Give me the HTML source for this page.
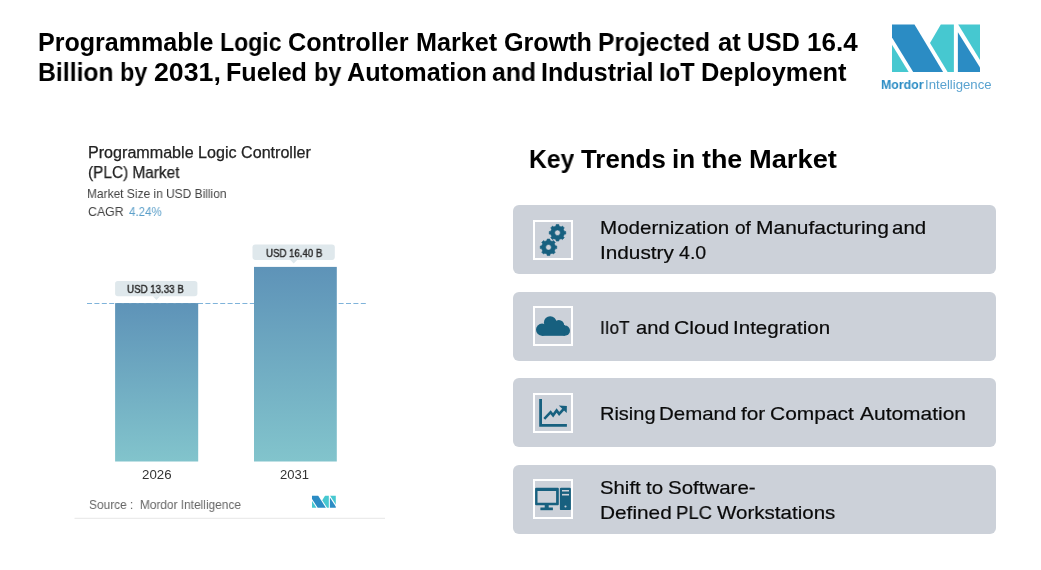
<!DOCTYPE html>
<html>
<head>
<meta charset="utf-8">
<style>
html,body{margin:0;padding:0;background:#fff;}
body{width:1041px;height:570px;position:relative;overflow:hidden;font-family:"Liberation Sans",sans-serif;color:#000;}
.abs{position:absolute;white-space:nowrap;}
.abs,.ctext{will-change:transform;}
.title{left:38.5px;top:27px;font-size:25px;font-weight:bold;line-height:30px;transform-origin:0 0;}
.tw{font-size:25px;font-weight:bold;line-height:30px;transform-origin:0 0;}
.kw{font-size:25px;font-weight:bold;line-height:30px;transform-origin:0 0;}
.cw{font-size:19px;line-height:25px;color:#0a0a0a;-webkit-text-stroke:0.2px #0a0a0a;transform-origin:0 0;}
.key{left:528.5px;top:144px;font-size:26px;font-weight:bold;line-height:30px;transform-origin:0 0;}
.card{position:absolute;left:513px;width:483px;height:69px;background:#ccd1d9;border-radius:6px;}
.ibox{position:absolute;left:19.8px;width:35.8px;height:35.8px;border:2.25px solid #fff;}
.ctext{position:absolute;left:87px;font-size:20.5px;line-height:25px;white-space:nowrap;color:#111;transform-origin:0 0;}
.ch{color:#222;transform-origin:0 0;}
</style>
</head>
<body>
<div class="abs tw" id="tw1" style="left:38.27px;top:27px;transform:scaleX(1.0018);">Programmable</div>
<div class="abs tw" id="tw2" style="left:219.61px;top:27px;transform:scaleX(0.9232);">Logic</div>
<div class="abs tw" id="tw3" style="left:287.72px;top:27px;transform:scaleX(1.0087);">Controller</div>
<div class="abs tw" id="tw4" style="left:415.81px;top:27px;transform:scaleX(1.0065);">Market</div>
<div class="abs tw" id="tw5" style="left:503.93px;top:27px;transform:scaleX(1.0054);">Growth</div>
<div class="abs tw" id="tw6" style="left:597.92px;top:27px;transform:scaleX(0.9826);">Projected</div>
<div class="abs tw" id="tw7" style="left:718.35px;top:27px;transform:scaleX(1.0228);">at</div>
<div class="abs tw" id="tw8" style="left:747.39px;top:27px;transform:scaleX(0.9970);">USD</div>
<div class="abs tw" id="tw9" style="left:806.69px;top:27px;transform:scaleX(1.0400);">16.4</div>
<div class="abs tw" id="tw10" style="left:38.31px;top:57px;transform:scaleX(0.9900);">Billion</div>
<div class="abs tw" id="tw11" style="left:120.29px;top:57px;transform:scaleX(0.9374);">by</div>
<div class="abs tw" id="tw12" style="left:153.60px;top:57px;transform:scaleX(1.0684);">2031,</div>
<div class="abs tw" id="tw13" style="left:226.45px;top:57px;transform:scaleX(1.0050);">Fueled</div>
<div class="abs tw" id="tw14" style="left:314.12px;top:57px;transform:scaleX(0.9365);">by</div>
<div class="abs tw" id="tw15" style="left:346.51px;top:57px;transform:scaleX(1.0076);">Automation</div>
<div class="abs tw" id="tw16" style="left:491.54px;top:57px;transform:scaleX(0.9872);">and</div>
<div class="abs tw" id="tw17" style="left:540.86px;top:57px;transform:scaleX(1.0001);">Industrial</div>
<div class="abs tw" id="tw18" style="left:658.61px;top:57px;transform:scaleX(0.9504);">IoT</div>
<div class="abs tw" id="tw19" style="left:701.16px;top:57px;transform:scaleX(1.0174);">Deployment</div>

<!-- logo -->
<svg class="abs" style="left:880px;top:20px" width="120" height="80" viewBox="880 20 120 80">
<polygon points="892,24.5 914.5,24.5 943.1,71.9 913.2,71.9 892,37.5" fill="#2b8cc4"/>
<polygon points="892,44.8 892,71.9 908.7,71.9" fill="#46c8d0"/>
<polygon points="940.8,24.5 953.9,24.5 953.9,71.9 947.6,71.9 930,43" fill="#46c8d0"/>
<polygon points="957.9,32.2 957.9,71.9 980,71.9 980,67.5" fill="#2b8cc4"/>
<polygon points="958.2,24.5 980,24.5 980,60.1" fill="#46c8d0"/>
</svg>
<div class="abs" id="lg1" style="left:881.3px;top:76.5px;font-size:13px;line-height:16px;transform-origin:0 0;transform:scaleX(0.95);font-weight:bold;color:#2b8cc4">Mordor</div>
<div class="abs" id="lg2" style="left:924.8px;top:76.5px;font-size:13px;line-height:16px;transform-origin:0 0;transform:scaleX(1.012);color:#5aa3d0">Intelligence</div>

<!-- chart -->
<div id="chart" style="position:absolute;left:0;top:0;width:500px;height:570px;filter:blur(0.3px)">
<div class="abs ch" id="c1" style="left:87.64px;top:143px;font-size:16px;line-height:20px;-webkit-text-stroke:0.25px #222;transform:scaleX(1.0064)">Programmable Logic Controller</div>
<div class="abs ch" id="c2" style="left:87.84px;top:163px;font-size:16px;line-height:20px;-webkit-text-stroke:0.25px #222;transform:scaleX(0.9611)">(PLC) Market</div>
<div class="abs ch" id="c3" style="left:87.39px;top:186px;font-size:13px;line-height:16px;color:#444;transform:scaleX(0.9197)">Market Size in USD Billion</div>
<div class="abs ch" id="c4" style="left:87.68px;top:204px;font-size:13px;line-height:16px;color:#444;transform:scaleX(0.9474)">CAGR</div>
<div class="abs ch" id="c5" style="left:128.68px;top:204px;font-size:13px;line-height:16px;color:#5b9fc9;transform:scaleX(0.8916)">4.24%</div>
<svg class="abs" style="left:0;top:0" width="500" height="570" viewBox="0 0 500 570">
<defs><linearGradient id="bg" x1="0" y1="0" x2="0" y2="1"><stop offset="0" stop-color="#5e93b8"/><stop offset="1" stop-color="#82c4cc"/></linearGradient></defs>
<line x1="87" y1="303.4" x2="367" y2="303.4" stroke="#7fb3da" stroke-width="1.05" stroke-dasharray="5 2.4"/>
<rect x="115.1" y="303.1" width="83.1" height="158.4" fill="url(#bg)"/>
<rect x="254" y="266.9" width="82.8" height="194.6" fill="url(#bg)"/>
<rect x="74.5" y="517.8" width="310.5" height="1" fill="#e6e6e6"/>
<g fill="#dfe8ec">
<rect x="115.1" y="280.9" width="82.3" height="15.4" rx="2.8"/>
<polygon points="152.8,296.2 160,296.2 156.4,299.9"/>
<rect x="252.5" y="244.5" width="82.3" height="15.4" rx="2.8"/>
<polygon points="290.1,259.8 297.4,259.8 293.7,263.6"/>
</g>
<svg x="311.9" y="495.4" width="24" height="12.5" viewBox="892 24.5 88 47.5" preserveAspectRatio="none">
<polygon points="892,24.5 914.5,24.5 943.1,71.9 913.2,71.9 892,37.5" fill="#2b8cc4"/>
<polygon points="892,44.8 892,71.9 908.7,71.9" fill="#46c8d0"/>
<polygon points="940.8,24.5 953.9,24.5 953.9,71.9 947.6,71.9 930,43" fill="#46c8d0"/>
<polygon points="957.9,32.2 957.9,71.9 980,71.9 980,67.5" fill="#2b8cc4"/>
<polygon points="958.2,24.5 980,24.5 980,60.1" fill="#46c8d0"/>
</svg>
</svg>
<div class="abs ch" id="l1" style="left:127.22px;top:282px;font-size:11.3px;line-height:14px;color:#2e2e2e;-webkit-text-stroke:0.45px #2e2e2e;transform:scaleX(0.8605)">USD 13.33 B</div>
<div class="abs ch" id="l2" style="left:266.32px;top:246px;font-size:11.3px;line-height:14px;color:#2e2e2e;-webkit-text-stroke:0.45px #2e2e2e;transform:scaleX(0.8537)">USD 16.40 B</div>
<div class="abs ch" id="y1" style="left:142.49px;top:467px;font-size:13px;line-height:16px;color:#333;transform:scaleX(1.0201);">2026</div>
<div class="abs ch" id="y2" style="left:280.16px;top:467px;font-size:13px;line-height:16px;color:#333;transform:scaleX(1.0008);">2031</div>
<div class="abs ch" id="src" style="left:89.10px;top:497px;font-size:13px;line-height:16px;color:#666;transform:scaleX(0.9141)">Source :&nbsp; Mordor Intelligence</div>
</div>

<!-- right -->

<div class="card" style="top:205px"><div class="ibox" style="top:14.8px"></div></div>
<div class="card" style="top:292px"><div class="ibox" style="top:13.8px"></div></div>
<div class="card" style="top:378px"><div class="ibox" style="top:14.8px"></div></div>
<div class="card" style="top:465px"><div class="ibox" style="top:13.8px"></div></div>

<div class="abs kw" id="kw1" style="left:529.06px;top:144px;transform:scaleX(0.9882);">Key</div>
<div class="abs kw" id="kw2" style="left:580.81px;top:144px;transform:scaleX(1.0345);">Trends</div>
<div class="abs kw" id="kw3" style="left:671.98px;top:144px;transform:scaleX(1.0427);">in</div>
<div class="abs kw" id="kw4" style="left:702.16px;top:144px;transform:scaleX(1.0753);">the</div>
<div class="abs kw" id="kw5" style="left:748.96px;top:144px;transform:scaleX(1.0905);">Market</div>
<div class="abs cw" id="cw1" style="left:599.68px;top:215px;transform:scaleX(1.0832);">Modernization</div>
<div class="abs cw" id="cw2" style="left:735.30px;top:215px;transform:scaleX(1.0050);">of</div>
<div class="abs cw" id="cw3" style="left:756.25px;top:215px;transform:scaleX(1.1042);">Manufacturing</div>
<div class="abs cw" id="cw4" style="left:892.23px;top:215px;transform:scaleX(1.0774);">and</div>
<div class="abs cw" id="cw5" style="left:599.95px;top:240px;transform:scaleX(1.0925);">Industry</div>
<div class="abs cw" id="cw6" style="left:679.38px;top:240px;transform:scaleX(1.0308);">4.0</div>
<div class="abs cw" id="cw7" style="left:600.02px;top:315px;transform:scaleX(0.9069);">IIoT</div>
<div class="abs cw" id="cw8" style="left:636.34px;top:315px;transform:scaleX(1.0589);">and</div>
<div class="abs cw" id="cw9" style="left:673.90px;top:315px;transform:scaleX(1.1149);">Cloud</div>
<div class="abs cw" id="cw10" style="left:733.49px;top:315px;transform:scaleX(1.0812);">Integration</div>
<div class="abs cw" id="cw11" style="left:600.09px;top:401px;transform:scaleX(1.0518);">Rising</div>
<div class="abs cw" id="cw12" style="left:659.38px;top:401px;transform:scaleX(1.0757);">Demand</div>
<div class="abs cw" id="cw13" style="left:741.06px;top:401px;transform:scaleX(1.0964);">for</div>
<div class="abs cw" id="cw14" style="left:770.46px;top:401px;transform:scaleX(1.1029);">Compact</div>
<div class="abs cw" id="cw15" style="left:859.98px;top:401px;transform:scaleX(1.1027);">Automation</div>
<div class="abs cw" id="cw16" style="left:599.90px;top:475px;transform:scaleX(1.0698);">Shift</div>
<div class="abs cw" id="cw17" style="left:646.42px;top:475px;transform:scaleX(1.0802);">to</div>
<div class="abs cw" id="cw18" style="left:667.82px;top:475px;transform:scaleX(1.0778);">Software-</div>
<div class="abs cw" id="cw19" style="left:599.86px;top:500px;transform:scaleX(1.0955);">Defined</div>
<div class="abs cw" id="cw20" style="left:675.79px;top:500px;transform:scaleX(0.9734);">PLC</div>
<div class="abs cw" id="cw21" style="left:717.42px;top:500px;transform:scaleX(1.0811);">Workstations</div>
<svg class="abs" style="left:0;top:0" width="1041" height="570" viewBox="0 0 1041 570">
<g fill="#17607f">
<!-- gears -->
<path fill-rule="evenodd" stroke="#17607f" stroke-width="0.6" stroke-linejoin="round" d="M555.95 226.08 L556.19 224.55 L558.81 224.55 L559.05 226.08 L561.16 226.95 L562.41 226.04 L564.26 227.89 L563.35 229.14 L564.22 231.25 L565.75 231.49 L565.75 234.11 L564.22 234.35 L563.35 236.46 L564.26 237.71 L562.41 239.56 L561.16 238.65 L559.05 239.52 L558.81 241.05 L556.19 241.05 L555.95 239.52 L553.84 238.65 L552.59 239.56 L550.74 237.71 L551.65 236.46 L550.78 234.35 L549.25 234.11 L549.25 231.49 L550.78 231.25 L551.65 229.14 L550.74 227.89 L552.59 226.04 L553.84 226.95Z M554.70 232.80 a2.80 2.80 0 1 0 5.60 0 a2.80 2.80 0 1 0 -5.60 0Z"/>
<path fill-rule="evenodd" stroke="#17607f" stroke-width="0.6" stroke-linejoin="round" d="M546.95 240.58 L547.19 239.05 L549.81 239.05 L550.05 240.58 L552.16 241.45 L553.41 240.54 L555.26 242.39 L554.35 243.64 L555.22 245.75 L556.75 245.99 L556.75 248.61 L555.22 248.85 L554.35 250.96 L555.26 252.21 L553.41 254.06 L552.16 253.15 L550.05 254.02 L549.81 255.55 L547.19 255.55 L546.95 254.02 L544.84 253.15 L543.59 254.06 L541.74 252.21 L542.65 250.96 L541.78 248.85 L540.25 248.61 L540.25 245.99 L541.78 245.75 L542.65 243.64 L541.74 242.39 L543.59 240.54 L544.84 241.45Z M545.70 247.30 a2.80 2.80 0 1 0 5.60 0 a2.80 2.80 0 1 0 -5.60 0Z"/>
<!-- cloud -->
<g>
<circle cx="542.1" cy="329.7" r="6.1"/>
<circle cx="550.2" cy="322.5" r="6.3"/>
<circle cx="558.8" cy="325.4" r="5.4"/>
<circle cx="564.9" cy="330.7" r="5.1"/>
<rect x="541.7" y="325" width="23.2" height="10.8"/>
</g>
<!-- chart -->
<path d="M539.2 399 h2.8 v24.9 h24.9 v2.8 h-27.7Z"/>
<polyline points="544.3,418.8 550.6,412.2 553.1,415.3 556.6,410.4 559.2,414 563.6,409.2" fill="none" stroke="#17607f" stroke-width="2.6" stroke-linejoin="miter"/>
<polygon points="558.8,405.6 566.9,406 566.7,413.1"/>
<!-- computer -->
<path fill-rule="evenodd" d="M536.1 487.8 h21.7 a1 1 0 0 1 1 1 v15.5 a1 1 0 0 1 -1 1 h-21.7 a1 1 0 0 1 -1 -1 v-15.5 a1 1 0 0 1 1 -1Z M537.5 490.9 v11.8 h18.6 v-11.8Z"/>
<rect x="544.7" y="505" width="4" height="3"/>
<rect x="540.4" y="507.5" width="12.5" height="2.7"/>
<rect x="559.9" y="487.8" width="11" height="22.3" rx="1.2"/>
<rect x="562" y="490" width="7" height="1.5" fill="#ccd1d9"/>
<rect x="562" y="493.9" width="7" height="1.6" fill="#ccd1d9"/>
<circle cx="565.5" cy="506.5" r="1.05" fill="#ccd1d9"/>
</g>
</svg>
</body>
</html>
